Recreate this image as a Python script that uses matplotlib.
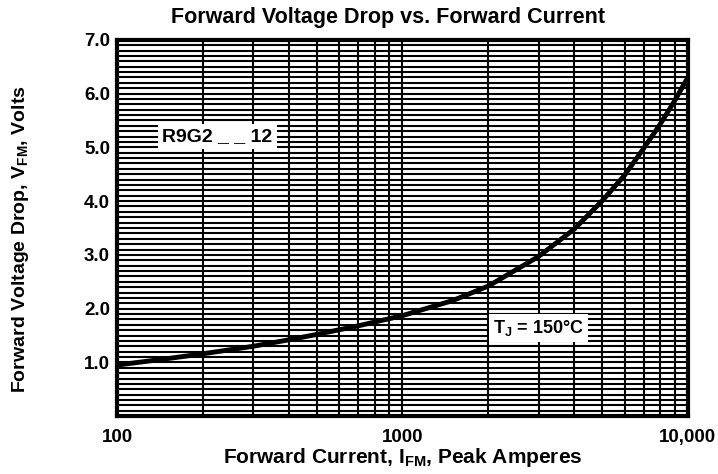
import numpy as np
import matplotlib
matplotlib.use('Agg')
import matplotlib.pyplot as plt
from matplotlib.ticker import FixedLocator, NullFormatter

plt.rcParams['font.family'] = ['Liberation Sans', 'DejaVu Sans']
plt.rcParams['mathtext.fontset'] = 'custom'
plt.rcParams['mathtext.rm'] = 'Liberation Sans'
plt.rcParams['mathtext.bf'] = 'Liberation Sans:bold'

# data
current = [100, 150, 200, 300, 400, 500, 700, 1000, 1500, 2000, 3000, 4000,
           5000, 6000, 7000, 8000, 9000, 10000]
voltage = [0.95, 1.07, 1.16, 1.30, 1.42, 1.52, 1.68, 1.87, 2.15, 2.42, 2.97, 3.48,
           4.00, 4.48, 4.98, 5.43, 5.87, 6.30]

y_ticks = [1.0, 2.0, 3.0, 4.0, 5.0, 6.0, 7.0]
x_ticks = [100, 1000, 10000]
x_tick_labels = ['100', '1000', '10,000']

fig = plt.figure(figsize=(7.18, 4.74), dpi=100)
ax = fig.add_axes([0.163, 0.122, 0.795, 0.794])

ax.set_xscale('log')
ax.set_xlim(100, 10000)
ax.set_ylim(0, 7.0)

# grid: horizontal every 0.1 V, vertical at every decade step
for v in np.arange(0.1, 7.0, 0.1):
    ax.axhline(v, color='black', linewidth=1.5, zorder=1)
minor_x = [m * d for d in (100, 1000) for m in range(2, 10)] + [1000]
for x in minor_x:
    ax.axvline(x, color='black', linewidth=1.5, zorder=1)

ax.plot(current, voltage, color='black', linewidth=3.5, zorder=3,
        solid_joinstyle='round')

ax.text(225, 5.2, 'R9G2 _ _ 12', fontsize=14, fontweight='bold', ha='center', va='center',
        bbox=dict(facecolor='white', edgecolor='none', pad=3), zorder=4)
ax.text(3000, 1.64, r'T$_\mathbf{J}$ = 150°C', fontsize=13, fontweight='bold',
        ha='center', va='center',
        bbox=dict(facecolor='white', edgecolor='none', pad=3), zorder=4)

ax.xaxis.set_major_locator(FixedLocator(x_ticks))
ax.set_xticklabels(x_tick_labels)
ax.xaxis.set_minor_formatter(NullFormatter())
ax.set_yticks(y_ticks)
ax.set_yticklabels([f'{t:.1f}' for t in y_ticks])
ax.tick_params(axis='both', which='both', length=0, labelsize=13.5)
ax.tick_params(axis='x', pad=9)
ax.tick_params(axis='y', pad=5)
for lab in ax.get_xticklabels() + ax.get_yticklabels():
    lab.set_fontweight('bold')

for s in ax.spines.values():
    s.set_linewidth(3)

ax.set_title('Forward Voltage Drop vs. Forward Current', fontsize=15.5, fontweight='bold',
             pad=12, x=0.475)
ax.set_xlabel(r'Forward Current, I$_\mathbf{FM}$, Peak Amperes', fontsize=15,
              fontweight='bold', labelpad=0)
ax.set_ylabel(r'Forward Voltage Drop, V$_\mathbf{FM}$, Volts', fontsize=14,
              fontweight='bold')
ax.yaxis.set_label_coords(-0.15, 0.47)

fig.savefig('out.png', dpi=100)
